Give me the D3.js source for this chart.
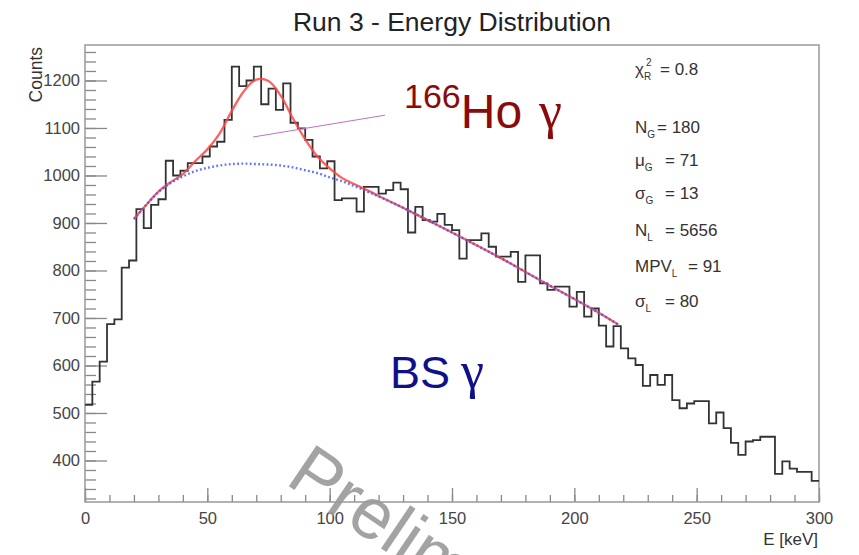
<!DOCTYPE html>
<html>
<head>
<meta charset="utf-8">
<script src="https://cdn.jsdelivr.net/npm/d3@7"></script>
<style>
body { margin: 0; background: #fff; }
svg { display: block; font-family: "Liberation Sans", Arial, sans-serif; }
</style>
</head>
<body>
<div id="chart"></div>
<script>
// histogram, 3 keV bins from 0 to 300 keV
var binWidth = 3;
var counts = [517, 566, 608, 687, 697, 806, 821, 929, 889, 938,
              950, 1031, 1000, 1010, 1026, 1026, 1040, 1061, 1071, 1117,
              1229, 1188, 1200, 1229, 1150, 1183, 1138, 1194, 1111, 1099,
              1075, 1040, 1015, 1030, 948, 952, 952, 924, 976, 976,
              962, 969, 985, 971, 880, 934, 906, 903, 919, 896,
              885, 825, 864, 864, 878, 850, 829, 829, 839, 776,
              832, 832, 773, 759, 766, 766, 724, 755, 703, 720,
              684, 640, 683, 636, 615, 601, 557, 580, 559, 580,
              527, 510, 520, 525, 525, 478, 501, 468, 437, 412,
              440, 443, 450, 450, 372, 398, 383, 376, 376, 357];

// fit curves (keV, counts)
var fitE     = [20, 25, 30, 35, 40, 45, 50, 55, 60, 65, 70, 75, 80, 85, 90, 95, 100, 105, 110, 115, 120, 130, 140, 150, 160, 170, 180, 190, 200, 210, 218];
var fitTotal = [909, 938, 966, 986, 1003, 1030, 1055, 1088, 1136, 1178, 1202, 1199, 1168, 1120, 1076, 1040, 1015, 995, 982, 970, 957, 932, 906, 880, 853, 826, 797, 768, 740, 711, 686];
var fitBkg   = [908, 938, 965, 984, 998, 1009, 1016, 1021, 1024, 1025, 1024, 1023, 1021, 1017, 1011, 1005, 996, 988, 978, 967, 956, 932, 906, 880, 853, 826, 797, 768, 740, 711, 686];

// pointer line from the peak label
var pointerE = [68.7, 122.6];
var pointerV = [1081, 1127];

var xMajor = [0, 50, 100, 150, 200, 250, 300];
var yMajor = [400, 500, 600, 700, 800, 900, 1000, 1100, 1200];

var statNames  = ["χ", "N", "μ", "σ", "N", "MPV", "σ"];
var statSubs   = ["R", "G", "G", "G", "L", "L", "L"];
var statValues = ["0.8", "180", "71", "13", "5656", "91", "80"];

(function(){
	"use strict";

	var width = 859, height = 555;
	var padL = 85, padR = 819, padT = 45, padB = 502;

	var svg = d3.select("#chart").append("svg").attr("width", width).attr("height", height);

	var x = d3.scaleLinear().domain([0, 300]).range([padL, padR]);
	var y = d3.scaleLinear().domain([312.6, 1274.7]).range([padB, padT]);

	///////////////////////////////////////
	// axes
	var xMinor = d3.range(0, 301, 10);
	var yMinor = d3.range(320, 1275, 20);

	var gx = svg.append("g").attr("transform", "translate(0," + padB + ")");
	gx.append("g").call(d3.axisBottom(x).tickValues(xMinor).tickSize(-7).tickFormat(""));
	gx.append("g").call(d3.axisBottom(x).tickValues(xMajor).tickSize(-14).tickPadding(7).tickFormat(d3.format("d")));
	var gy = svg.append("g").attr("transform", "translate(" + padL + ",0)");
	gy.append("g").call(d3.axisLeft(y).tickValues(yMinor).tickSize(-11).tickFormat(""));
	gy.append("g").call(d3.axisLeft(y).tickValues(yMajor).tickSize(-22).tickPadding(5).tickFormat(d3.format("d")));

	svg.selectAll(".domain").remove();
	svg.selectAll(".tick line").attr("stroke", "#888").attr("stroke-width", 1.3);
	svg.selectAll(".tick text").attr("fill", "#444").style("font-size", "16.5px")
	   .style("font-family", "'Liberation Sans', Arial, sans-serif");
	gx.selectAll(".tick text").attr("dy", "0.9em");

	svg.append("rect").attr("x", padL).attr("y", padT)
	   .attr("width", padR - padL).attr("height", padB - padT)
	   .attr("fill", "none").attr("stroke", "#999").attr("stroke-width", 1.5);

	// histogram
	var pts = counts.map(function(c, i){ return [i * binWidth, c]; });
	pts.push([300, counts[counts.length - 1]]);
	svg.append("path").datum(pts)
	   .attr("fill", "none").attr("stroke", "#333").attr("stroke-width", 1.8)
	   .attr("d", d3.line().x(function(d){ return x(d[0]); }).y(function(d){ return y(d[1]); }).curve(d3.curveStepAfter));

	// fits
	var fitLine = d3.line().x(function(d){ return x(d[0]); }).y(function(d){ return y(d[1]); }).curve(d3.curveCatmullRom);
	svg.append("path").datum(fitE.map(function(e, i){ return [e, fitTotal[i]]; }))
	   .attr("fill", "none").attr("stroke", "#ff4545").attr("stroke-opacity", 0.85).attr("stroke-width", 2.3)
	   .attr("d", fitLine);
	svg.append("path").datum(fitE.map(function(e, i){ return [e, fitBkg[i]]; }))
	   .attr("fill", "none").attr("stroke", "#3a50ff").attr("stroke-opacity", 0.8).attr("stroke-width", 2.4)
	   .attr("stroke-dasharray", "1.8,2.4")
	   .attr("d", fitLine);

	svg.append("line")
	   .attr("x1", x(pointerE[0])).attr("y1", y(pointerV[0]))
	   .attr("x2", x(pointerE[1])).attr("y2", y(pointerV[1]))
	   .attr("stroke", "#c070c8").attr("stroke-width", 1);

	///////////////////////////////////////
	// texts
	svg.append("text").attr("x", 452).attr("y", 31).attr("text-anchor", "middle")
	   .attr("fill", "#222").style("font-size", "26.5px").text("Run 3 - Energy Distribution");

	svg.append("text").attr("transform", "translate(42,47) rotate(-90)").attr("text-anchor", "end")
	   .attr("fill", "#333").style("font-size", "17.5px").text("Counts");

	svg.append("text").attr("x", 818).attr("y", 545).attr("text-anchor", "end")
	   .attr("fill", "#333").style("font-size", "17px").text("E [keV]");

	// stats
	var statY = [75, 133, 166, 199, 236, 272, 307];
	var eqX = [660, 657, 665, 665, 665, 688, 665];
	var st = svg.append("g").attr("fill", "#333").style("font-size", "17px");
	statNames.forEach(function(n, i){
		var t = st.append("text").attr("x", 635).attr("y", statY[i]);
		t.append("tspan").text(n);
		t.append("tspan").attr("dy", 5).style("font-size", "10px").text(statSubs[i]);
		if (i === 0) {
			t.append("tspan").attr("x", 646).attr("dy", -14).style("font-size", "10px").text("2");
			t.append("tspan").attr("x", eqX[i]).attr("dy", 9).text("= " + statValues[i]);
		} else {
			t.append("tspan").attr("x", eqX[i]).attr("dy", -5).text("= " + statValues[i]);
		}
	});

	// peak label
	var ho = svg.append("text").attr("x", 404).attr("y", 128).attr("fill", "#8b0a0a");
	ho.append("tspan").attr("dy", -20).style("font-size", "34px").text("166");
	ho.append("tspan").attr("dy", 20).style("font-size", "48px").text("Ho");
	ho.append("tspan").attr("x", 539).style("font-size", "52px").style("font-family", "'Liberation Serif', serif").text("γ");

	var bs = svg.append("text").attr("x", 390).attr("y", 388).attr("fill", "#10108a");
	bs.append("tspan").style("font-size", "45px").text("BS");
	bs.append("tspan").attr("x", 461).style("font-size", "52px").style("font-family", "'Liberation Serif', serif").text("γ");

	// watermark
	svg.append("text").attr("transform", "translate(284,483) rotate(34)")
	   .attr("fill", "#999").attr("fill-opacity", 0.9).style("font-size", "72px").text("Preliminary");
})();
</script>
</body>
</html>
